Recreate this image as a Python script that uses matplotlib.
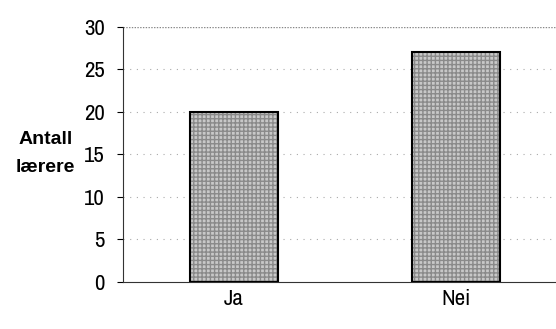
import matplotlib.pyplot as plt
from matplotlib import font_manager

categories = ['Ja', 'Nei']
values = [20, 27]
yticks = [0, 5, 10, 15, 20, 25, 30]

names = {f.name for f in font_manager.fontManager.ttflist}
fam = 'Liberation Sans'
for cand in ['Arial Narrow', 'Liberation Sans Narrow', 'Archivo Narrow', 'PT Sans Narrow',
             'Roboto Condensed', 'Open Sans Condensed']:
    if cand in names:
        fam = cand
        break
plt.rcParams['font.family'] = [fam, 'DejaVu Sans']

fig = plt.figure(figsize=(5.56, 3.29), dpi=100)
ax = fig.add_axes([0.2212, 0.1429, 0.7788, 0.7751])

x = range(len(categories))
# grey pattern fill, then black outline
ax.bar(x, values, width=0.4, color='#c8c8c8', edgecolor='#8a8a8a', hatch='++++', lw=0, zorder=2)
ax.bar(x, values, width=0.4, fill=False, edgecolor='black', lw=1.5, zorder=3)

ax.set_xlim(-0.5, 1.45)
ax.set_ylim(0, 30)
ax.set_yticks(yticks)
ax.set_xticks(list(x))
ax.set_xticklabels(categories)
ax.tick_params(axis='y', labelsize=16.5, length=4, width=0.8, pad=9)
ax.tick_params(axis='x', labelsize=16.5, length=0, pad=5)

for v in yticks[1:-1]:
    ax.axhline(v, color='#aaaaaa', lw=0.8, ls=(0, (1, 5)), zorder=1)
ax.axhline(30, color='#888888', lw=1, ls=(0, (1, 1)), zorder=1)

for s in ['top', 'right']:
    ax.spines[s].set_visible(False)
ax.spines['left'].set_color('#333333')
ax.spines['bottom'].set_color('#333333')

fig.text(0.082, 0.533, 'Antall\nlærere', ha='center', va='center', fontsize=14,
         fontweight='bold', linespacing=1.9, family='Liberation Sans')

fig.savefig('out.png', dpi=100)
